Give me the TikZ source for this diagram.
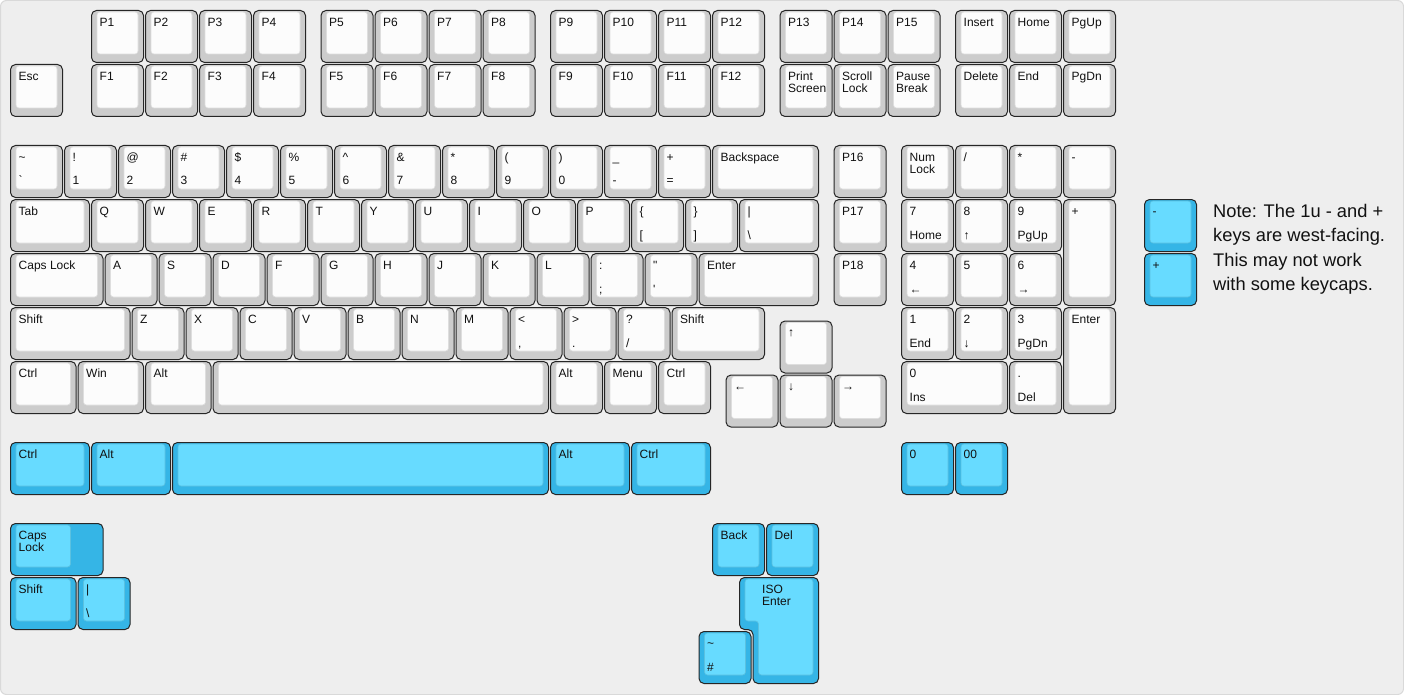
\documentclass[tikz,border=0pt]{standalone}
\usepackage{fontspec}
\newfontfamily\legfont{Liberation Sans}
\definecolor{bgfill}{HTML}{EEEEEE}
\definecolor{bgline}{HTML}{D9D9D9}
\definecolor{kgo}{HTML}{CCCCCC}
\definecolor{kgi}{HTML}{FCFCFC}
\definecolor{kbo}{HTML}{35B5E6}
\definecolor{kbi}{HTML}{67DBFF}
\definecolor{kline}{HTML}{262626}
\definecolor{legc}{HTML}{111111}
\newcounter{kc}
\tikzset{
  keyout/.style={draw=kline,line width=1pt,rounded corners=5pt},
  keyin/.style={line width=0.6pt,rounded corners=3pt},
  leg/.style={inner sep=0pt,anchor=base west,text=legc,font=\legfont\fontsize{12}{12}\selectfont},
  notetext/.style={inner sep=0pt,anchor=base west,text=legc,font=\legfont\fontsize{18.3}{18.3}\selectfont},
}
% #1 x, #2 y, #3 w, #4 h, #5 colour set (g/b), #6 top line 1, #7 top line 2, #8 bottom legend
\newcommand\kcap[8]{%
  \stepcounter{kc}%
  \pgfmathsetmacro\xa{9.5+54*#1}%
  \pgfmathsetmacro\ya{9.5+54*#2}%
  \pgfmathsetmacro\xb{\xa+54*#3}%
  \pgfmathsetmacro\yb{\ya+54*#4}%
  \draw[keyout,fill=k#5o] (\xa+1,\ya+1) rectangle (\xb-1,\yb-1);
  \draw[keyin,fill=k#5i,draw=k#5i!88!black] (\xa+6.5,\ya+2.5) rectangle (\xb-6.5,\yb-9.5);
  \if\relax\detokenize{#6}\relax\else
    \node[leg] (k\arabic{kc}a) at (\xa+9,\ya+16.7) {#6};\fi
  \if\relax\detokenize{#7}\relax\else
    \node[leg] (k\arabic{kc}c) at (\xa+9,\ya+28.7) {#7};\fi
  \if\relax\detokenize{#8}\relax\else
    \node[leg] (k\arabic{kc}b) at (\xa+9,\ya+40.5) {#8};\fi
}
\begin{document}
\begin{tikzpicture}[x=1pt,y=-1pt]
\useasboundingbox (0,0) rectangle (1404,695);
\draw[fill=bgfill,draw=bgline,line width=1pt,rounded corners=6pt] (0.5,0.5) rectangle (1403.5,694.5);
% row P
\kcap{1.5}{0}{1}{1}{g}{P1}{}{}
\kcap{2.5}{0}{1}{1}{g}{P2}{}{}
\kcap{3.5}{0}{1}{1}{g}{P3}{}{}
\kcap{4.5}{0}{1}{1}{g}{P4}{}{}
\kcap{5.75}{0}{1}{1}{g}{P5}{}{}
\kcap{6.75}{0}{1}{1}{g}{P6}{}{}
\kcap{7.75}{0}{1}{1}{g}{P7}{}{}
\kcap{8.75}{0}{1}{1}{g}{P8}{}{}
\kcap{10}{0}{1}{1}{g}{P9}{}{}
\kcap{11}{0}{1}{1}{g}{P10}{}{}
\kcap{12}{0}{1}{1}{g}{P11}{}{}
\kcap{13}{0}{1}{1}{g}{P12}{}{}
\kcap{14.25}{0}{1}{1}{g}{P13}{}{}
\kcap{15.25}{0}{1}{1}{g}{P14}{}{}
\kcap{16.25}{0}{1}{1}{g}{P15}{}{}
\kcap{17.5}{0}{1}{1}{g}{Insert}{}{}
\kcap{18.5}{0}{1}{1}{g}{Home}{}{}
\kcap{19.5}{0}{1}{1}{g}{PgUp}{}{}
% row F
\kcap{0}{1}{1}{1}{g}{Esc}{}{}
\kcap{1.5}{1}{1}{1}{g}{F1}{}{}
\kcap{2.5}{1}{1}{1}{g}{F2}{}{}
\kcap{3.5}{1}{1}{1}{g}{F3}{}{}
\kcap{4.5}{1}{1}{1}{g}{F4}{}{}
\kcap{5.75}{1}{1}{1}{g}{F5}{}{}
\kcap{6.75}{1}{1}{1}{g}{F6}{}{}
\kcap{7.75}{1}{1}{1}{g}{F7}{}{}
\kcap{8.75}{1}{1}{1}{g}{F8}{}{}
\kcap{10}{1}{1}{1}{g}{F9}{}{}
\kcap{11}{1}{1}{1}{g}{F10}{}{}
\kcap{12}{1}{1}{1}{g}{F11}{}{}
\kcap{13}{1}{1}{1}{g}{F12}{}{}
\kcap{14.25}{1}{1}{1}{g}{Print}{Screen}{}
\kcap{15.25}{1}{1}{1}{g}{Scroll}{Lock}{}
\kcap{16.25}{1}{1}{1}{g}{Pause}{Break}{}
\kcap{17.5}{1}{1}{1}{g}{Delete}{}{}
\kcap{18.5}{1}{1}{1}{g}{End}{}{}
\kcap{19.5}{1}{1}{1}{g}{PgDn}{}{}
% number row
\kcap{0}{2.5}{1}{1}{g}{\textasciitilde}{}{`}
\kcap{1}{2.5}{1}{1}{g}{!}{}{1}
\kcap{2}{2.5}{1}{1}{g}{@}{}{2}
\kcap{3}{2.5}{1}{1}{g}{\#}{}{3}
\kcap{4}{2.5}{1}{1}{g}{\$}{}{4}
\kcap{5}{2.5}{1}{1}{g}{\%}{}{5}
\kcap{6}{2.5}{1}{1}{g}{\textasciicircum}{}{6}
\kcap{7}{2.5}{1}{1}{g}{\&}{}{7}
\kcap{8}{2.5}{1}{1}{g}{*}{}{8}
\kcap{9}{2.5}{1}{1}{g}{(}{}{9}
\kcap{10}{2.5}{1}{1}{g}{)}{}{0}
\kcap{11}{2.5}{1}{1}{g}{\_}{}{-}
\kcap{12}{2.5}{1}{1}{g}{+}{}{=}
\kcap{13}{2.5}{2}{1}{g}{Backspace}{}{}
\kcap{15.25}{2.5}{1}{1}{g}{P16}{}{}
\kcap{16.5}{2.5}{1}{1}{g}{Num}{Lock}{}
\kcap{17.5}{2.5}{1}{1}{g}{/}{}{}
\kcap{18.5}{2.5}{1}{1}{g}{*}{}{}
\kcap{19.5}{2.5}{1}{1}{g}{-}{}{}
% tab row
\kcap{0}{3.5}{1.5}{1}{g}{Tab}{}{}
\kcap{1.5}{3.5}{1}{1}{g}{Q}{}{}
\kcap{2.5}{3.5}{1}{1}{g}{W}{}{}
\kcap{3.5}{3.5}{1}{1}{g}{E}{}{}
\kcap{4.5}{3.5}{1}{1}{g}{R}{}{}
\kcap{5.5}{3.5}{1}{1}{g}{T}{}{}
\kcap{6.5}{3.5}{1}{1}{g}{Y}{}{}
\kcap{7.5}{3.5}{1}{1}{g}{U}{}{}
\kcap{8.5}{3.5}{1}{1}{g}{I}{}{}
\kcap{9.5}{3.5}{1}{1}{g}{O}{}{}
\kcap{10.5}{3.5}{1}{1}{g}{P}{}{}
\kcap{11.5}{3.5}{1}{1}{g}{\{}{}{[}
\kcap{12.5}{3.5}{1}{1}{g}{\}}{}{]}
\kcap{13.5}{3.5}{1.5}{1}{g}{|}{}{\textbackslash}
\kcap{15.25}{3.5}{1}{1}{g}{P17}{}{}
\kcap{16.5}{3.5}{1}{1}{g}{7}{}{Home}
\kcap{17.5}{3.5}{1}{1}{g}{8}{}{↑}
\kcap{18.5}{3.5}{1}{1}{g}{9}{}{PgUp}
\kcap{19.5}{3.5}{1}{2}{g}{+}{}{}
% caps row
\kcap{0}{4.5}{1.75}{1}{g}{Caps Lock}{}{}
\kcap{1.75}{4.5}{1}{1}{g}{A}{}{}
\kcap{2.75}{4.5}{1}{1}{g}{S}{}{}
\kcap{3.75}{4.5}{1}{1}{g}{D}{}{}
\kcap{4.75}{4.5}{1}{1}{g}{F}{}{}
\kcap{5.75}{4.5}{1}{1}{g}{G}{}{}
\kcap{6.75}{4.5}{1}{1}{g}{H}{}{}
\kcap{7.75}{4.5}{1}{1}{g}{J}{}{}
\kcap{8.75}{4.5}{1}{1}{g}{K}{}{}
\kcap{9.75}{4.5}{1}{1}{g}{L}{}{}
\kcap{10.75}{4.5}{1}{1}{g}{:}{}{;}
\kcap{11.75}{4.5}{1}{1}{g}{"}{}{'}
\kcap{12.75}{4.5}{2.25}{1}{g}{Enter}{}{}
\kcap{15.25}{4.5}{1}{1}{g}{P18}{}{}
\kcap{16.5}{4.5}{1}{1}{g}{4}{}{←}
\kcap{17.5}{4.5}{1}{1}{g}{5}{}{}
\kcap{18.5}{4.5}{1}{1}{g}{6}{}{→}
% shift row
\kcap{0}{5.5}{2.25}{1}{g}{Shift}{}{}
\kcap{2.25}{5.5}{1}{1}{g}{Z}{}{}
\kcap{3.25}{5.5}{1}{1}{g}{X}{}{}
\kcap{4.25}{5.5}{1}{1}{g}{C}{}{}
\kcap{5.25}{5.5}{1}{1}{g}{V}{}{}
\kcap{6.25}{5.5}{1}{1}{g}{B}{}{}
\kcap{7.25}{5.5}{1}{1}{g}{N}{}{}
\kcap{8.25}{5.5}{1}{1}{g}{M}{}{}
\kcap{9.25}{5.5}{1}{1}{g}{<}{}{,}
\kcap{10.25}{5.5}{1}{1}{g}{>}{}{.}
\kcap{11.25}{5.5}{1}{1}{g}{?}{}{/}
\kcap{12.25}{5.5}{1.75}{1}{g}{Shift}{}{}
\kcap{14.25}{5.75}{1}{1}{g}{↑}{}{}
\kcap{16.5}{5.5}{1}{1}{g}{1}{}{End}
\kcap{17.5}{5.5}{1}{1}{g}{2}{}{↓}
\kcap{18.5}{5.5}{1}{1}{g}{3}{}{PgDn}
\kcap{19.5}{5.5}{1}{2}{g}{Enter}{}{}
% ctrl row
\kcap{0}{6.5}{1.25}{1}{g}{Ctrl}{}{}
\kcap{1.25}{6.5}{1.25}{1}{g}{Win}{}{}
\kcap{2.5}{6.5}{1.25}{1}{g}{Alt}{}{}
\kcap{3.75}{6.5}{6.25}{1}{g}{}{}{}
\kcap{10}{6.5}{1}{1}{g}{Alt}{}{}
\kcap{11}{6.5}{1}{1}{g}{Menu}{}{}
\kcap{12}{6.5}{1}{1}{g}{Ctrl}{}{}
\kcap{13.25}{6.75}{1}{1}{g}{←}{}{}
\kcap{14.25}{6.75}{1}{1}{g}{↓}{}{}
\kcap{15.25}{6.75}{1}{1}{g}{→}{}{}
\kcap{16.5}{6.5}{2}{1}{g}{0}{}{Ins}
\kcap{18.5}{6.5}{1}{1}{g}{.}{}{Del}
% blue bottom row
\kcap{0}{8}{1.5}{1}{b}{Ctrl}{}{}
\kcap{1.5}{8}{1.5}{1}{b}{Alt}{}{}
\kcap{3}{8}{7}{1}{b}{}{}{}
\kcap{10}{8}{1.5}{1}{b}{Alt}{}{}
\kcap{11.5}{8}{1.5}{1}{b}{Ctrl}{}{}
\kcap{16.5}{8}{1}{1}{b}{0}{}{}
\kcap{17.5}{8}{1}{1}{b}{00}{}{}
% stepped caps lock
\draw[keyout,fill=kbo] (10.5,523.5) rectangle (103,575.5);
\draw[keyin,fill=kbi,draw=kbi!88!black] (16,525) rectangle (70.5,567);
\node[leg] (capsa) at (18.5,539.2) {Caps};
\node[leg] (capsb) at (18.5,551.2) {Lock};
\kcap{13}{9.5}{1}{1}{b}{Back}{}{}
\kcap{14}{9.5}{1}{1}{b}{Del}{}{}
\kcap{0}{10.5}{1.25}{1}{b}{Shift}{}{}
\kcap{1.25}{10.5}{1}{1}{b}{|}{}{\textbackslash}
% ISO enter
\draw[keyout,fill=kbo] (739.5,577.5) -- (818.5,577.5) -- (818.5,683.5) -- (753,683.5) -- (753,629.5) -- (739.5,629.5) -- cycle;
\draw[keyin,fill=kbi,draw=kbi!88!black] (745,579) -- (813,579) -- (813,675) -- (758.5,675) -- (758.5,621) -- (745,621) -- cycle;
\node[leg] (isoa) at (762,593.2) {ISO};
\node[leg] (isob) at (762,605.2) {Enter};
\kcap{12.75}{11.5}{1}{1}{b}{\textasciitilde}{}{\#}
% note keys
\kcap{21}{3.5}{1}{1}{b}{-}{}{}
\kcap{21}{4.5}{1}{1}{b}{+}{}{}
\node[notetext] (note1) at (1213,217) {Note: The 1u - and +};
\node[notetext] (note2) at (1213,241.5) {keys are west-facing.};
\node[notetext] (note3) at (1213,266) {This may not work};
\node[notetext] (note4) at (1213,290.5) {with some keycaps.};
\end{tikzpicture}
\end{document}
